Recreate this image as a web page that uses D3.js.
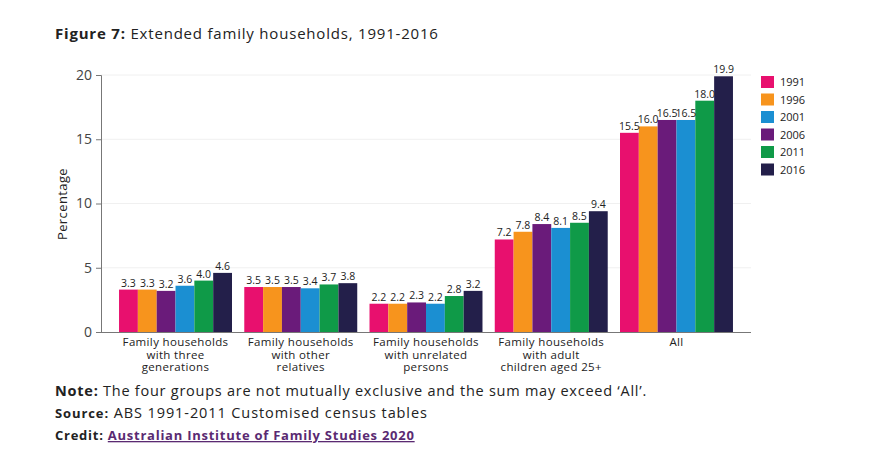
<!DOCTYPE html>
<html lang="en">
<head>
  <meta charset="UTF-8">
  <title>Extended family households, 1991-2016</title>
  <script src="https://d3js.org/d3.v7.min.js"></script>
  <style>
    body { margin: 0; background: #fff; }
    text { font-family: "Open Sans", sans-serif; }
  </style>
</head>
<body>
  <svg id="chart" width="880" height="450"></svg>

  <script>
    const categories = [
      ["Family households", "with three", "generations"],
      ["Family households", "with other", "relatives"],
      ["Family households", "with unrelated", "persons"],
      ["Family households", "with adult", "children aged 25+"],
      ["All"]
    ]
    const years = ["1991", "1996", "2001", "2006", "2011", "2016"]
    const colors = ["#e8106e", "#f7941d", "#1b8fd2", "#6a1b7a", "#0f9a48", "#231f4a"]
    // bars are drawn in this order inside each group
    const barOrder = ["1991", "1996", "2006", "2001", "2011", "2016"]

    const v1991 = [3.3, 3.5, 2.2, 7.2, 15.5]
    const v1996 = [3.3, 3.5, 2.2, 7.8, 16.0]
    const v2001 = [3.6, 3.4, 2.2, 8.1, 16.5]
    const v2006 = [3.2, 3.5, 2.3, 8.4, 16.5]
    const v2011 = [4.0, 3.7, 2.8, 8.5, 18.0]
    const v2016 = [4.6, 3.8, 3.2, 9.4, 19.9]
    const yTicks = [0, 5, 10, 15, 20]

    const valuesByYear = { "1991": v1991, "1996": v1996, "2001": v2001, "2006": v2006, "2011": v2011, "2016": v2016 }
    const color = d3.scaleOrdinal().domain(years).range(colors)

    const svg = d3.select("#chart")

    const x0 = d3.scaleBand()
      .domain(d3.range(categories.length))
      .range([101, 751])
      .paddingInner(0.098)
      .paddingOuter(0.144)

    const x1 = d3.scaleBand()
      .domain(barOrder)
      .range([0, x0.bandwidth()])

    const y = d3.scaleLinear()
      .domain([0, 20])
      .range([332, 75])

    // gridlines
    svg.append("g")
      .selectAll("line")
      .data(yTicks.slice(1))
      .join("line")
      .attr("x1", 101)
      .attr("x2", 751)
      .attr("y1", d => y(d))
      .attr("y2", d => y(d))
      .attr("stroke", "#f0f0f0")

    const yAxis = svg.append("g")
      .attr("transform", "translate(101,0)")
      .call(d3.axisLeft(y).tickValues(yTicks).tickSize(5).tickPadding(4))
    yAxis.select(".domain").attr("stroke", "#777")
    yAxis.selectAll(".tick line").attr("stroke", "#777")
    yAxis.selectAll(".tick text")
      .attr("fill", "#444")
      .style("font-size", "14px")

    svg.append("text")
      .attr("transform", "translate(67,204) rotate(-90)")
      .attr("text-anchor", "middle")
      .attr("fill", "#222")
      .style("font-size", "13px")
      .style("letter-spacing", "0.4px")
      .text("Percentage")

    // bars
    const groups = svg.append("g")
      .selectAll("g")
      .data(categories)
      .join("g")
      .attr("transform", (d, i) => "translate(" + x0(i) + ",0)")

    groups.selectAll("rect")
      .data((d, i) => barOrder.map(yr => ({ year: yr, value: valuesByYear[yr][i] })))
      .join("rect")
      .attr("x", d => x1(d.year))
      .attr("y", d => y(d.value))
      .attr("width", x1.bandwidth())
      .attr("height", d => y(0) - y(d.value))
      .attr("fill", d => color(d.year))

    groups.selectAll(".val")
      .data((d, i) => barOrder.map(yr => ({ year: yr, value: valuesByYear[yr][i] })))
      .join("text")
      .attr("class", "val")
      .attr("x", d => x1(d.year) + x1.bandwidth() / 2)
      .attr("y", d => y(d.value) - 3)
      .attr("text-anchor", "middle")
      .attr("fill", "#222")
      .style("font-size", "10.5px")
      .text(d => d.value.toFixed(1))

    // x axis line
    svg.append("line")
      .attr("x1", 101)
      .attr("x2", 751)
      .attr("y1", y(0) + 0.5)
      .attr("y2", y(0) + 0.5)
      .attr("stroke", "#777")

    groups.append("text")
      .attr("text-anchor", "middle")
      .attr("fill", "#222")
      .style("font-size", "11.5px")
      .style("letter-spacing", "0.35px")
      .selectAll("tspan")
      .data(d => d)
      .join("tspan")
      .attr("x", x0.bandwidth() / 2)
      .attr("y", (d, i) => 346 + i * 12.5)
      .text(d => d)

    // legend
    const legend = svg.append("g")
      .selectAll("g")
      .data(years)
      .join("g")
      .attr("transform", (d, i) => "translate(761," + (76 + i * 17.5) + ")")
    legend.append("rect")
      .attr("width", 13)
      .attr("height", 12)
      .attr("fill", d => color(d))
    legend.append("text")
      .attr("x", 19)
      .attr("y", 10)
      .attr("fill", "#222")
      .style("font-size", "11px")
      .text(d => d)

    // title
    const title = svg.append("text")
      .attr("x", 55)
      .attr("y", 39)
      .attr("fill", "#222")
      .style("font-size", "15px")
      .style("letter-spacing", "0.8px")
    title.append("tspan").style("font-weight", "bold").text("Figure 7:")
    title.append("tspan").text(" Extended family households, 1991-2016")

    // notes
    const note = svg.append("text")
      .attr("x", 55).attr("y", 396)
      .attr("fill", "#222")
      .style("font-size", "14.5px")
      .style("letter-spacing", "0.75px")
    note.append("tspan").style("font-weight", "bold").text("Note:")
    note.append("tspan").text(" The four groups are not mutually exclusive and the sum may exceed \u2018All\u2019.")

    const source = svg.append("text")
      .attr("x", 55).attr("y", 418)
      .attr("fill", "#222")
      .style("font-size", "14.5px")
      .style("letter-spacing", "0.9px")
    source.append("tspan").style("font-weight", "bold").style("font-size", "13px").text("Source:")
    source.append("tspan").text(" ABS 1991-2011 Customised census tables")

    const credit = svg.append("text")
      .attr("x", 55).attr("y", 440)
      .attr("fill", "#222")
      .style("font-size", "13px")
      .style("font-weight", "bold")
      .style("letter-spacing", "0.75px")
    credit.append("tspan").text("Credit: ")
    credit.append("tspan")
      .attr("fill", "#5a2a72")
      .style("text-decoration", "underline")
      .text("Australian Institute of Family Studies 2020")
  </script>
</body>
</html>
